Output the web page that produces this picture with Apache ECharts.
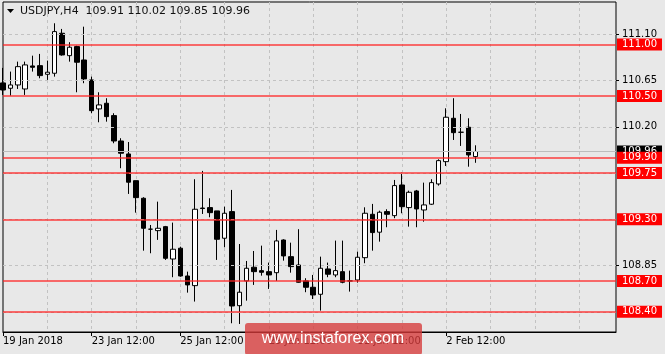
<!DOCTYPE html>
<html>
<head>
<meta charset="utf-8">
<script src="https://cdn.jsdelivr.net/npm/echarts@6/dist/echarts.min.js"></script>
<style>
html,body{margin:0;padding:0;background:#e8e8e8;}
#chart{width:665px;height:354px;}
</style>
</head>
<body>
<div id="chart"></div>
<script>
// ---- data (USDJPY H4) ----
const symbolName = 'USDJPY,H4';
const opens  = [110.627,110.575,110.607,110.568,110.792,110.795,110.711,110.721,111.110,110.892,110.980,110.850,110.656,110.374,110.429,110.309,110.062,109.936,109.676,109.505,109.204,109.190,109.229,108.914,109.019,108.749,108.655,109.410,109.414,109.382,109.116,109.375,108.460,108.701,108.834,108.801,108.791,108.781,109.099,108.937,108.856,108.701,108.639,108.571,108.817,108.759,108.791,108.701,108.710,108.927,109.349,109.175,109.375,109.336,109.634,109.414,109.576,109.391,109.447,109.644,109.861,110.283,110.147,110.196,109.91];
const highs  = [110.773,110.737,110.834,110.834,110.892,110.909,110.844,111.207,111.152,111.023,110.989,111.174,110.688,110.536,110.478,110.332,110.089,110.052,109.676,109.515,109.245,109.472,109.236,109.268,109.034,108.791,109.690,109.771,109.505,109.382,109.423,109.586,109.060,108.895,108.992,109.044,108.879,109.197,109.106,109.073,109.204,108.727,108.759,108.937,108.879,109.093,109.093,108.801,108.986,109.417,109.450,109.384,109.398,109.683,109.754,109.579,109.586,109.657,109.690,109.884,110.380,110.478,110.325,110.283,110.02];
const lows   = [110.510,110.503,110.568,110.510,110.737,110.672,110.656,110.688,110.892,110.834,110.536,110.624,110.332,110.244,110.250,110.040,109.797,109.547,109.365,108.995,108.970,109.100,108.905,108.737,108.742,108.587,108.500,109.352,109.320,108.905,109.028,108.289,108.282,108.509,108.662,108.752,108.623,108.701,108.898,108.781,108.684,108.591,108.525,108.412,108.737,108.737,108.678,108.597,108.684,108.873,108.995,109.083,109.223,109.311,109.359,109.229,109.223,109.277,109.440,109.628,109.819,110.072,110.014,109.812,109.85];
const closes = [110.558,110.607,110.785,110.802,110.779,110.698,110.731,111.126,110.899,110.974,110.828,110.666,110.357,110.413,110.299,110.062,109.943,109.661,109.511,109.213,109.204,109.213,108.921,109.009,108.749,108.662,109.398,109.405,109.365,109.106,109.359,108.457,108.591,108.824,108.791,108.785,108.759,109.090,108.944,108.840,108.688,108.639,108.564,108.824,108.766,108.801,108.688,108.701,108.931,109.359,109.171,109.369,109.349,109.628,109.423,109.563,109.401,109.440,109.657,109.871,110.293,110.143,110.147,109.926,109.96];

const levels = [111.00, 110.50, 109.90, 109.75, 109.30, 108.70, 108.40];       // red horizontal levels
const yGridLevels = [108.40, 108.85, 109.30, 109.75, 110.20, 110.65, 111.10];  // dashed grid
const yTickLabels = [108.85, 110.20, 110.65, 111.10];                           // black price labels
const xTickLabels = ['19 Jan 2018', '23 Jan 12:00', '25 Jan 12:00', '29 Jan 12:00', '31 Jan 12:00', '2 Feb 12:00'];
const barsPerLabel = 12;
const barsPerGrid = 6;
const slotCount = 84;

// ---- build ----
const categories = Array.from({length: slotCount}, (_, i) => String(i));
const candleData = opens.map((o, i) => [o, closes[i], lows[i], highs[i]]);
const last = opens.length - 1;
const lastClose = closes[last];
const FONT = 'DejaVu Sans';

const chart = echarts.init(document.getElementById('chart'), null, {renderer: 'canvas'});
const labelBox = {
  show: true, position: 'end', distance: 1,
  formatter: p => Number(p.value).toFixed(2),
  color: '#fff', fontFamily: FONT, fontSize: 10,
  padding: [1, 5, 0, 5], lineHeight: 11
};
chart.setOption({
  animation: false,
  backgroundColor: '#e8e8e8',
  grid: {left: 3, right: 49, top: 2, bottom: 22, show: true, borderColor: '#000', borderWidth: 1, backgroundColor: '#e8e8e8'},
  xAxis: {
    type: 'category', data: categories, boundaryGap: false,
    axisLine: {show: true, lineStyle: {color: '#000'}},
    axisTick: {show: true, length: 4, lineStyle: {color: '#000'},
      interval: i => i % barsPerLabel === 0 && i / barsPerLabel < xTickLabels.length},
    axisLabel: {show: true, align: 'left', margin: 4, color: '#000', fontFamily: FONT, fontSize: 10,
      interval: i => i % barsPerLabel === 0 && i / barsPerLabel < xTickLabels.length,
      formatter: (v, i) => xTickLabels[i / barsPerLabel] || ''},
    splitLine: {show: true, interval: i => i % barsPerGrid === 0 && i > 0,
      lineStyle: {color: '#c2c2c2', type: [3, 3], width: 1}}
  },
  yAxis: {
    type: 'value', position: 'right', min: 108.204, max: 111.414, scale: true,
    axisLine: {show: false},
    axisTick: {show: true, length: 3, customValues: yTickLabels, lineStyle: {color: '#000'}},
    axisLabel: {show: true, customValues: yTickLabels, margin: 6, color: '#000', fontFamily: FONT, fontSize: 10,
      formatter: v => v.toFixed(2)},
    splitLine: {show: false}
  },
  series: [
    {
      type: 'line', data: [], z: 1, silent: true,
      markLine: {silent: true, symbol: 'none', animation: false, label: {show: false},
        lineStyle: {color: '#c2c2c2', type: [3, 3], width: 1},
        data: yGridLevels.map(v => ({yAxis: v}))}
    },
    {
      type: 'line', data: [], z: 2, silent: true,
      markLine: {silent: true, symbol: 'none', animation: false,
        lineStyle: {color: '#bdbdbd', type: 'solid', width: 1},
        label: Object.assign({}, labelBox, {backgroundColor: '#000'}),
        data: [{yAxis: lastClose}]}
    },
    {
      type: 'candlestick', data: candleData, z: 3, barWidth: 5, clip: true,
      itemStyle: {color: '#ffffff', color0: '#000000', borderColor: '#000000', borderColor0: '#000000', borderWidth: 1}
    },
    {
      type: 'line', data: [], z: 4, silent: true,
      markLine: {silent: true, symbol: 'none', animation: false,
        lineStyle: {color: 'rgba(255,30,30,0.85)', type: 'solid', width: 1.5},
        label: Object.assign({}, labelBox, {backgroundColor: '#ff0000'}),
        data: levels.map(v => ({yAxis: v}))}
    }
  ],
  graphic: [
    {type: 'polygon', shape: {points: [[7, 9], [14, 9], [10.5, 13]]}, style: {fill: '#000'}, z: 50},
    {type: 'text', left: 20, top: 6, z: 50,
      style: {text: symbolName + '  ' + [opens[last], highs[last], lows[last], closes[last]].map(v => v.toFixed(2)).join(' '),
        fill: '#111', font: '11px "DejaVu Sans"'}},
    {type: 'rect', shape: {x: 245, y: 323, width: 177, height: 32, r: 3}, style: {fill: 'rgba(214,58,58,0.78)'}, z: 100},
    {type: 'text', x: 333, y: 339, z: 101,
      style: {text: 'www.instaforex.com', fill: '#fff', font: '16px "Liberation Sans"', textAlign: 'center', textVerticalAlign: 'middle'}}
  ]
});
</script>
</body>
</html>
